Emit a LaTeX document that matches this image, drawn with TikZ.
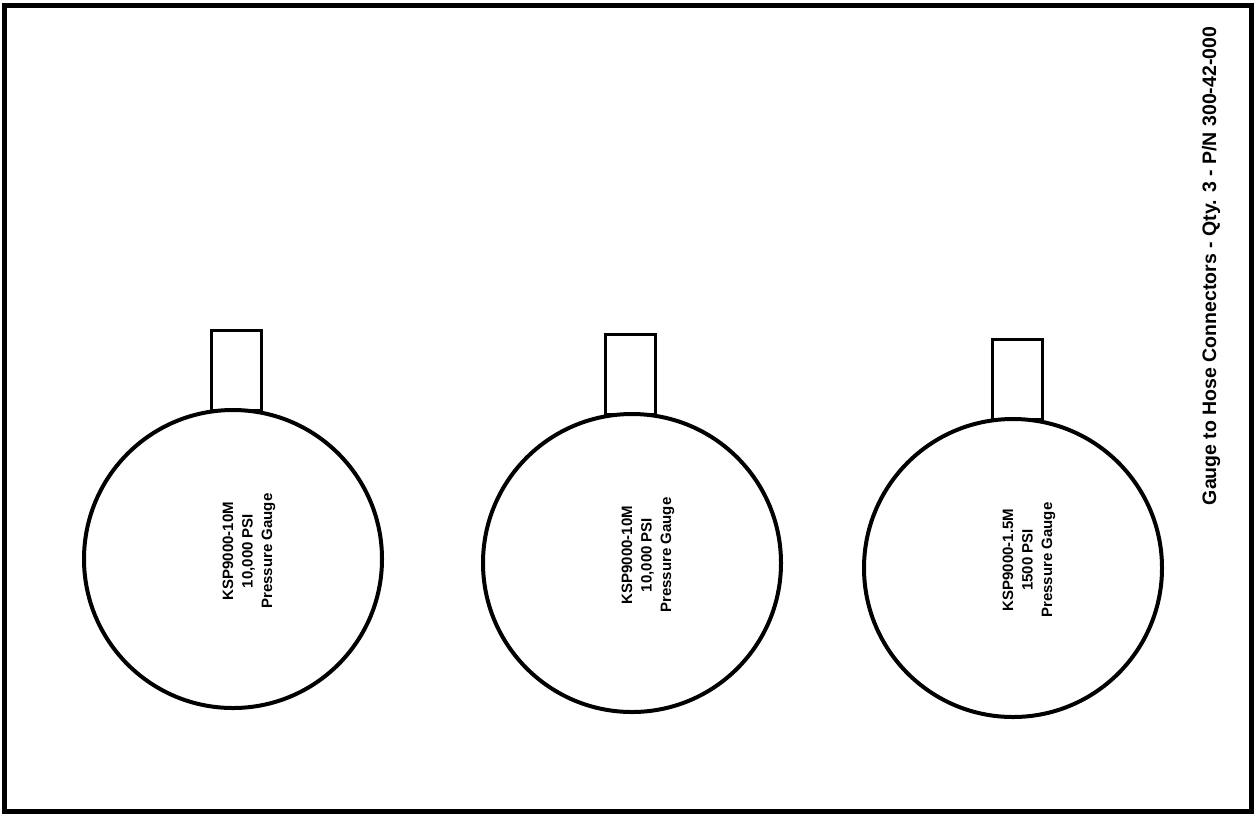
\documentclass[tikz,border=0pt]{standalone}
\usepackage{fontspec}
\setmainfont{Liberation Sans}
\usetikzlibrary{positioning}
\tikzset{
  frame/.style={line width=5pt},
  gauge/.style={draw, circle, line width=4pt, minimum size=298pt, inner sep=0pt},
  stem/.style={draw, rectangle, line width=3pt, minimum width=50pt, minimum height=80pt, inner sep=0pt},
  gaugelabel/.style={rotate=90, align=center, inner sep=0pt, font=\bfseries\fontsize{15}{19.5}\selectfont},
  titlelabel/.style={rotate=90, inner sep=0pt, font=\bfseries\fontsize{19.5}{22}\selectfont}
}

\begin{document}
\begin{tikzpicture}[x=1pt, y=-1pt]
  \useasboundingbox (0,0) rectangle (1257,815);
  \draw[frame] (4,5) rectangle (1251,811);

  % gauges
  \node[gauge] (g1) at (233,559) {};
  \node[gauge] (g2) at (632,563) {};
  \node[gauge] (g3) at (1013,568) {};

  % stems
  \node[stem, above=-4pt of g1, xshift=3pt] (s1) {};
  \node[stem, above=-4pt of g2, xshift=-2pt] (s2) {};
  \node[stem, above=-4pt of g3, xshift=4pt] (s3) {};

  % labels
  \node[gaugelabel] (l1) at ([xshift=16pt,yshift=8pt]g1.center) {KSP9000-10M\\10,000 PSI\\Pressure Gauge};
  \node[gaugelabel] (l2) at ([xshift=16pt,yshift=8pt]g2.center) {KSP9000-10M\\10,000 PSI\\Pressure Gauge};
  \node[gaugelabel] (l3) at ([xshift=16pt,yshift=8pt]g3.center) {KSP9000-1.5M\\1500 PSI\\Pressure Gauge};

  \node[titlelabel] (title) at (1211,266) {Gauge to Hose Connectors - Qty. 3 - P/N 300-42-000};
\end{tikzpicture}
\end{document}
